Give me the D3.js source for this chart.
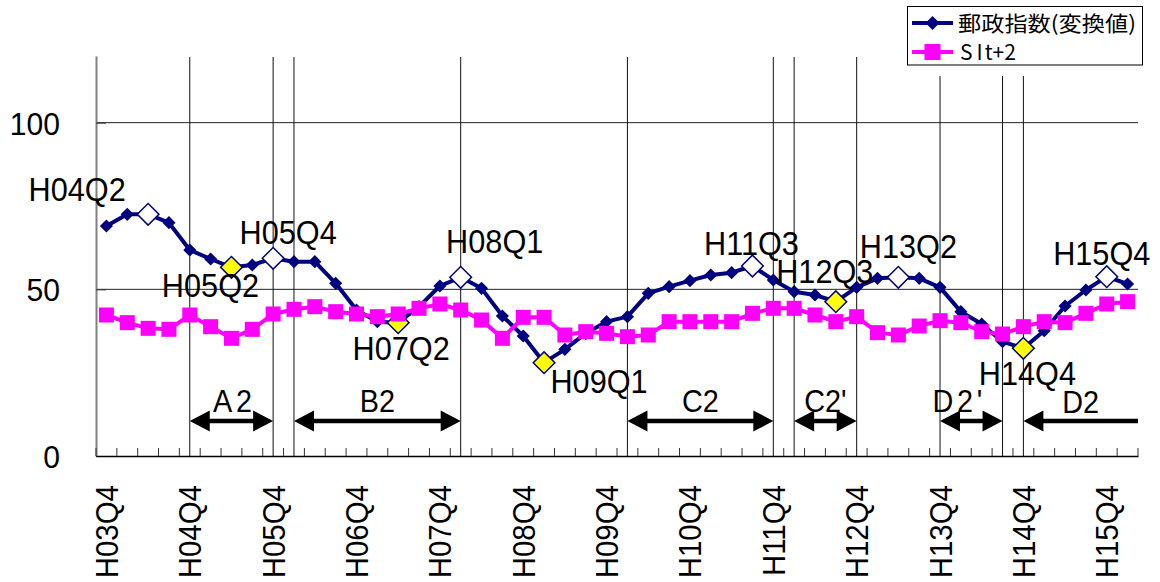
<!DOCTYPE html>
<html lang="ja">
  <head>
    <meta charset="UTF-8" />
    <title>郵政指数</title>
    <style>
      body {
        margin: 0;
        background: #fff;
      }
      text {
        font-family: "Liberation Sans", Arial, sans-serif;
        fill: #000;
      }
    </style>
  </head>

  <body>
    <script src="https://cdn.jsdelivr.net/npm/d3@7/dist/d3.min.js"></script>
    <script>
      // data
      const quarters = [
        "H03Q4",
        "H04Q1", "H04Q2", "H04Q3", "H04Q4",
        "H05Q1", "H05Q2", "H05Q3", "H05Q4",
        "H06Q1", "H06Q2", "H06Q3", "H06Q4",
        "H07Q1", "H07Q2", "H07Q3", "H07Q4",
        "H08Q1", "H08Q2", "H08Q3", "H08Q4",
        "H09Q1", "H09Q2", "H09Q3", "H09Q4",
        "H10Q1", "H10Q2", "H10Q3", "H10Q4",
        "H11Q1", "H11Q2", "H11Q3", "H11Q4",
        "H12Q1", "H12Q2", "H12Q3", "H12Q4",
        "H13Q1", "H13Q2", "H13Q3", "H13Q4",
        "H14Q1", "H14Q2", "H14Q3", "H14Q4",
        "H15Q1", "H15Q2", "H15Q3", "H15Q4",
        "H16Q1",
      ];
      const tickLabels = [
        "H03Q4", "H04Q4", "H05Q4", "H06Q4", "H07Q4", "H08Q4", "H09Q4",
        "H10Q4", "H11Q4", "H12Q4", "H13Q4", "H14Q4", "H15Q4",
      ];
      const yTicks = [0, 50, 100];

      // 郵政指数(変換値)
      const postalIndex = [
        69.0, 72.5, 72.5, 70.0, 61.8, 59.1, 56.6, 57.3, 59.3, 58.3,
        58.3, 51.8, 43.8, 40.3, 40.0, 44.8, 51.0, 53.6, 50.3, 42.0,
        36.0, 28.0, 32.0, 36.8, 40.3, 41.8, 48.8, 50.8, 52.6, 54.3,
        55.0, 57.0, 52.8, 49.3, 48.3, 46.3, 50.6, 53.3, 53.6, 53.3,
        50.6, 43.3, 39.6, 34.3, 32.3, 37.6, 45.0, 49.8, 53.8, 51.6,
      ];
      // SIt+2
      const siPlus2 = [
        42.3, 40.0, 38.3, 38.0, 42.3, 38.8, 35.3, 38.0, 42.6, 44.0,
        44.8, 43.3, 42.6, 41.8, 42.6, 44.3, 45.6, 43.8, 40.8, 35.3,
        41.6, 41.6, 36.3, 37.3, 36.8, 35.8, 36.3, 40.3, 40.3, 40.3,
        40.3, 42.8, 44.3, 44.3, 42.3, 40.3, 41.8, 37.0, 36.3, 39.0,
        40.6, 40.0, 37.3, 36.6, 38.8, 40.3, 40.0, 42.8, 45.6, 46.3,
      ];

      const peaks = ["H04Q2", "H05Q4", "H08Q1", "H11Q3", "H13Q2", "H15Q4"];
      const troughs = ["H05Q2", "H07Q2", "H09Q1", "H12Q3", "H14Q4"];
      const turnLines = [
        "H04Q4", "H05Q4", "H06Q1", "H08Q1", "H10Q1", "H11Q4",
        "H12Q1", "H12Q4", "H13Q4", "H14Q3", "H14Q4",
      ];
      const phaseNames = ["A2", "B2", "C2", "C2'", "D2'", "D2"];
      const phaseFrom = ["H04Q4", "H06Q1", "H10Q1", "H12Q1", "H13Q4", "H14Q4"];
      const phaseTo = ["H05Q4", "H08Q1", "H11Q4", "H12Q4", "H14Q3", null];

      // label placement (offset from the point, px)
      const labelOffset = {
        H04Q2: [-71, -25], H05Q4: [15, -26], H08Q1: [34, -36],
        H11Q3: [-1, -23], H13Q2: [10, -31], H15Q4: [-5, -24],
        H05Q2: [-21, 18], H07Q2: [3, 25], H09Q1: [55, 18],
        H12Q3: [-11, -31], H14Q4: [4, 25],
      };

      const navy = "#000080",
        pink = "#ff00ff";

      // svg
      const svg = d3.select("body").append("svg");
      svg.attr("width", 1160).attr("height", 582);

      const x = d3.scaleBand().domain(quarters).range([96, 1138]);
      const cx = (q) => x(q) + x.bandwidth() / 2;
      const y = d3.scaleLinear().domain([0, 120]).range([456, 56]);

      // gridlines
      svg
        .append("g")
        .selectAll("line")
        .data(yTicks.filter((d) => d > 0))
        .join("line")
        .attr("x1", 96)
        .attr("x2", 1138)
        .attr("y1", (d) => y(d))
        .attr("y2", (d) => y(d))
        .attr("stroke", "#222")
        .attr("stroke-width", 1);

      // turning point lines
      svg
        .append("g")
        .selectAll("line")
        .data(turnLines)
        .join("line")
        .attr("x1", (d) => cx(d))
        .attr("x2", (d) => cx(d))
        .attr("y1", 57)
        .attr("y2", y(0))
        .attr("stroke", "#111")
        .attr("stroke-width", 1);

      // y axis
      const yAxis = svg
        .append("g")
        .attr("transform", "translate(96,0)")
        .call(d3.axisLeft(y).tickValues(yTicks).tickSize(-10).tickSizeOuter(0).tickPadding(36));
      yAxis.select(".domain").attr("stroke", "#808080").attr("stroke-width", 2);
      yAxis.selectAll(".tick line").attr("stroke", "#333");
      yAxis
        .selectAll("text")
        .attr("font-size", 32)
        .attr("x", -38.3)
        .attr("dy", "0.36em")
        .attr("transform", "scale(0.94,1)")
        .style("font-family", '"Liberation Sans", Arial, sans-serif');

      // x axis
      const xAxis = svg
        .append("g")
        .attr("transform", `translate(0,${y(0)})`)
        .call(d3.axisBottom(x).tickValues(tickLabels).tickSize(0).tickSizeOuter(0));
      xAxis.select(".domain").attr("stroke", "#000").attr("stroke-width", 1.5);
      xAxis
        .selectAll("text")
        .attr("font-size", 32)
        .attr("text-anchor", "end")
        .attr("x", 0)
        .attr("y", 0)
        .attr("dy", 0)
        .attr("transform", "rotate(-90) translate(-29,11.5) scale(0.92,1)")
        .style("font-family", '"Liberation Sans", Arial, sans-serif');

      // category tick marks (between quarters, inside)
      svg
        .append("g")
        .selectAll("line")
        .data(quarters.map((q) => x(q)).concat([x.range()[1]]))
        .join("line")
        .attr("x1", (d) => d)
        .attr("x2", (d) => d)
        .attr("y1", y(0) - 8)
        .attr("y2", y(0))
        .attr("stroke", "#333")
        .attr("stroke-width", 1);

      // phase arrows
      const arrowY = 421,
        headL = 20,
        headH = 10.5;
      const phases = phaseNames.map((name, i) => ({
        name,
        x1: cx(phaseFrom[i]),
        x2: phaseTo[i] ? cx(phaseTo[i]) : x.range()[1],
        both: !!phaseTo[i],
      }));
      const arrows = svg.append("g");
      arrows
        .selectAll("line")
        .data(phases)
        .join("line")
        .attr("x1", (d) => d.x1 + headL - 2)
        .attr("x2", (d) => (d.both ? d.x2 - headL + 2 : d.x2))
        .attr("y1", arrowY)
        .attr("y2", arrowY)
        .attr("stroke", "#000")
        .attr("stroke-width", 4.5);
      arrows
        .selectAll("path.left")
        .data(phases)
        .join("path")
        .attr("class", "left")
        .attr("d", (d) => `M${d.x1},${arrowY}L${d.x1 + headL},${arrowY - headH}L${d.x1 + headL},${arrowY + headH}Z`);
      arrows
        .selectAll("path.right")
        .data(phases.filter((d) => d.both))
        .join("path")
        .attr("class", "right")
        .attr("d", (d) => `M${d.x2},${arrowY}L${d.x2 - headL},${arrowY - headH}L${d.x2 - headL},${arrowY + headH}Z`);
      arrows
        .selectAll("text")
        .data(phases)
        .join("text")
        .attr("font-size", 31)
        .attr("text-anchor", "middle")
        .attr("transform", (d) => {
          const mid = (d.x1 + d.x2) / 2 + (d.name === "D2'" ? -12 : 0) + (d.name === "A2" ? 3 : 0);
          const lift = d.name === "D2" ? 8 : 9;
          return `translate(${mid},${arrowY - lift}) scale(0.93,1)`;
        })
        .attr("letter-spacing", (d) => (d.name === "A2" || d.name === "D2'" ? 4 : 0))
        .text((d) => d.name);

      // 郵政指数 line
      const lineGen = d3
        .line()
        .x((d) => cx(d.q))
        .y((d) => y(d.v));
      const postal = quarters.map((q, i) => ({ q, v: postalIndex[i] }));
      const si = quarters.map((q, i) => ({ q, v: siPlus2[i] }));

      svg
        .append("path")
        .attr("d", lineGen(postal))
        .attr("fill", "none")
        .attr("stroke", navy)
        .attr("stroke-width", 4)
        .attr("stroke-linejoin", "round");

      const diamond = (size) => d3.symbol().type(d3.symbolSquare).size(size);
      svg
        .append("g")
        .selectAll("path")
        .data(postal.filter((d) => !peaks.includes(d.q) && !troughs.includes(d.q)))
        .join("path")
        .attr("d", diamond(86))
        .attr("fill", navy)
        .attr("transform", (d) => `translate(${cx(d.q)},${y(d.v)}) rotate(45)`);
      svg
        .append("g")
        .selectAll("path")
        .data(postal.filter((d) => peaks.includes(d.q) || troughs.includes(d.q)))
        .join("path")
        .attr("d", diamond(235))
        .attr("fill", (d) => (peaks.includes(d.q) ? "#fff" : "#ffff00"))
        .attr("stroke", navy)
        .attr("stroke-width", 1.5)
        .attr("transform", (d) => `translate(${cx(d.q)},${y(d.v)}) rotate(45)`);

      // SIt+2 line
      svg
        .append("path")
        .attr("d", lineGen(si))
        .attr("fill", "none")
        .attr("stroke", pink)
        .attr("stroke-width", 4);
      svg
        .append("g")
        .selectAll("rect")
        .data(si)
        .join("rect")
        .attr("x", (d) => cx(d.q) - 7.5)
        .attr("y", (d) => y(d.v) - 7.5)
        .attr("width", 15)
        .attr("height", 15)
        .attr("fill", pink);

      // peak / trough labels
      svg
        .append("g")
        .selectAll("text")
        .data(postal.filter((d) => labelOffset[d.q]))
        .join("text")
        .attr("font-size", 33)
        .attr("text-anchor", "middle")
        .attr("transform", (d) => {
          const [dx, dy] = labelOffset[d.q];
          return `translate(${cx(d.q) + dx},${y(d.v) + dy + 12}) scale(0.93,1)`;
        })
        .text((d) => d.q);

      // legend
      const legend = svg.append("g");
      legend.append("rect").attr("x", 907).attr("y", 6).attr("width", 236).attr("height", 70).attr("fill", "#fff");
      legend
        .append("rect")
        .attr("x", 907.5)
        .attr("y", 6.5)
        .attr("width", 235)
        .attr("height", 58.5)
        .attr("fill", "#fff")
        .attr("stroke", "#000")
        .attr("stroke-width", 1);
      legend
        .append("line")
        .attr("x1", 912)
        .attr("x2", 953)
        .attr("y1", 23)
        .attr("y2", 23)
        .attr("stroke", navy)
        .attr("stroke-width", 4);
      legend
        .append("path")
        .attr("d", diamond(98))
        .attr("fill", navy)
        .attr("transform", "translate(932.5,23) rotate(45)");
      legend
        .append("text")
        .attr("x", 958)
        .attr("y", 30.5)
        .attr("font-size", 21)
        .attr("textLength", 178)
        .attr("lengthAdjust", "spacingAndGlyphs")
        .style("font-family", '"Noto Sans CJK JP", sans-serif')
        .text("郵政指数(変換値)");
      legend
        .append("line")
        .attr("x1", 912)
        .attr("x2", 953)
        .attr("y1", 52)
        .attr("y2", 52)
        .attr("stroke", pink)
        .attr("stroke-width", 4);
      legend.append("rect").attr("x", 924.5).attr("y", 44).attr("width", 16).attr("height", 16).attr("fill", pink);
      const siText = legend
        .append("text")
        .attr("x", 960)
        .attr("y", 60)
        .attr("font-size", 21)
        .style("font-family", '"Noto Sans CJK JP", sans-serif');
      siText.append("tspan").text("S");
      siText.append("tspan").attr("dx", 4).text("I");
      siText.append("tspan").attr("dx", 2).text("t+2");
    </script>
  </body>
</html>
